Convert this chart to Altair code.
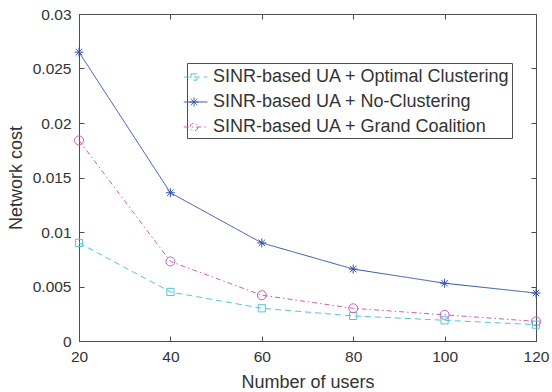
import altair as alt
import pandas as pd

users = [20, 40, 60, 80, 100, 120]
optimal = [0.0090, 0.0045, 0.0030, 0.0023, 0.0019, 0.0015]
noclust = [0.0265, 0.0136, 0.0090, 0.0066, 0.0053, 0.0044]
grand = [0.0184, 0.0073, 0.0042, 0.0030, 0.0024, 0.0018]

names = [
    "SINR-based UA + Optimal Clustering",
    "SINR-based UA + No-Clustering",
    "SINR-based UA + Grand Coalition",
]
colors = ["#55C4DA", "#3352A8", "#CC5CB8"]
dashes = [[6, 4], [1, 0], [5, 3, 1.5, 3]]

# marker shapes (unit paths)
square = "M-0.8,-0.8H0.8V0.8H-0.8Z"
star = "M-1,0H1M0,-1V1M-0.72,-0.72L0.72,0.72M-0.72,0.72L0.72,-0.72"
circ = "M1,0A1,1 0 1,1 -1,0A1,1 0 1,1 1,0Z"
shapes = [square, star, circ]

# legend symbols (line + marker), straight segments only
leg_line = "M-1.5,0L0.56,0"
leg_sq = leg_line + "M-0.87,-0.27L-0.35,-0.27L-0.35,0.27L-0.87,0.27Z"
leg_star = leg_line + "M-1.0,0L-0.22,0M-0.61,-0.39L-0.61,0.39M-0.89,-0.28L-0.33,0.28M-0.89,0.28L-0.33,-0.28"
leg_circ = leg_line + ("M-0.27,0L-0.316,0.17L-0.44,0.294L-0.61,0.34L-0.78,0.294L-0.904,0.17"
                       "L-0.95,0L-0.904,-0.17L-0.78,-0.294L-0.61,-0.34L-0.44,-0.294L-0.316,-0.17Z")

rows = []
for n, vals in zip(names, [optimal, noclust, grand]):
    for u, v in zip(users, vals):
        rows.append({"users": u, "cost": v, "series": n})
df = pd.DataFrame(rows)

font = "Liberation Sans"
axcol = "#4d4d4d"
txtcol = "#333333"

xscale = alt.Scale(domain=[20, 120], nice=False, zero=False)
yscale = alt.Scale(domain=[0, 0.03], nice=False)

main_x = alt.Axis(
    values=users, tickSize=0, labelPadding=8, labelFont=font, labelFontSize=15.5,
    labelColor=txtcol, labelFlush=False, grid=False, domainColor=axcol,
    title="Number of users", titleFont=font, titleFontSize=18, titleFontWeight="normal",
    titleColor=txtcol, titleX=228.5, titleY=41, titleBaseline="middle", titleAlign="center",
)
main_y = alt.Axis(
    values=[0, 0.005, 0.01, 0.015, 0.02, 0.025, 0.03], format="~g", tickSize=0,
    labelPadding=8, labelFont=font, labelFontSize=15.5, labelColor=txtcol,
    labelFlush=False, grid=False, domainColor=axcol,
    title="Network cost", titleFont=font, titleFontSize=18, titleFontWeight="normal",
    titleColor=txtcol, titleX=-63, titleY=163.5, titleAngle=270,
    titleBaseline="middle", titleAlign="center",
)

def tick_axis(orient, values):
    return alt.Axis(orient=orient, values=values, offset=-5, tickSize=5,
                    labels=False, domain=False, grid=False, title=None,
                    tickColor=axcol, tickWidth=1)

sel = (
    "datum.value === '" + names[0] + "' ? '" + leg_sq + "' : "
    "datum.value === '" + names[1] + "' ? '" + leg_star + "' : '" + leg_circ + "'"
)

legend = alt.Legend(
    title=None, orient="none", legendX=108, legendY=49, padding=2, rowPadding=4,
    strokeColor=axcol, fillColor="white", symbolSize=529, symbolStrokeWidth=1,
    labelFont=font, labelFontSize=18, labelColor=txtcol, labelOffset=0,
    labelLimit=400, cornerRadius=0,
    symbolType=alt.ExprRef(expr=sel),
    symbolDash=alt.ExprRef(expr="scale('strokeDash', datum.value)"),
)

cscale = alt.Scale(domain=names, range=colors)
color = alt.Color("series:N", scale=cscale, legend=legend)

base = alt.Chart(df)

lines = base.mark_line(strokeWidth=1).encode(
    x=alt.X("users:Q", scale=xscale, axis=main_x),
    y=alt.Y("cost:Q", scale=yscale, axis=main_y),
    color=color,
    strokeDash=alt.StrokeDash("series:N", scale=alt.Scale(domain=names, range=dashes), legend=None),
)

point_layers = []
for n, shp in zip(names, shapes):
    point_layers.append(
        base.transform_filter(alt.datum.series == n)
        .mark_point(filled=False, strokeWidth=1, size=81, opacity=1, shape=shp)
        .encode(
            x=alt.X("users:Q", scale=xscale, axis=None),
            y=alt.Y("cost:Q", scale=yscale, axis=None),
            color=alt.Color("series:N", scale=cscale, legend=None),
        )
    )

yvals = [0, 0.005, 0.01, 0.015, 0.02, 0.025, 0.03]
ticks_bl = base.mark_point(opacity=0).encode(
    x=alt.X("users:Q", scale=xscale, axis=tick_axis("bottom", users)),
    y=alt.Y("cost:Q", scale=yscale, axis=tick_axis("left", yvals)),
)
ticks_tr = base.mark_point(opacity=0).encode(
    x=alt.X("users:Q", scale=xscale, axis=tick_axis("top", users)),
    y=alt.Y("cost:Q", scale=yscale, axis=tick_axis("right", yvals)),
)

chart = (
    alt.layer(lines, *point_layers, ticks_bl, ticks_tr)
    .resolve_axis(x="independent", y="independent")
    .properties(
        width=457, height=327,
        autosize=alt.AutoSizeParams(type="none"),
        padding={"left": 79, "top": 14, "right": 16, "bottom": 51},
        background="white",
    )
    .configure_view(stroke=axcol, strokeWidth=1)
)

chart.save("out.html", embed_options={"renderer": "svg", "actions": False})
